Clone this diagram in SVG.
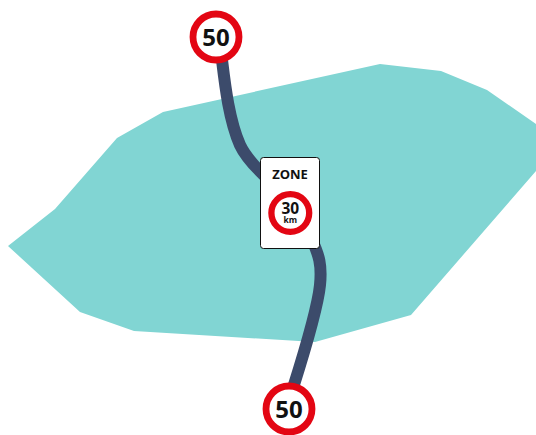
<svg xmlns="http://www.w3.org/2000/svg" width="536" height="435" viewBox="0 0 536 435">
<style>
.sign{fill:#fff;stroke:#e30613}
.big{font-family:"Open Sans","Noto Sans",sans-serif;font-weight:700;fill:#111;text-anchor:middle}
</style>
<rect width="536" height="435" fill="#fff"/>
<polygon id="zone-area" fill="#81d5d3" points="8,246 55,209 117,138 163,112 380,64 441,71 487,90 536,124 536,171 411,315 315,342 134,331 80,312"/>
<g id="connectors"><path d="M222,60C225,85 229,120 240,145C246,158 258,170 270,181M312,240C319,255 322,265 320,285C318,305 305,350 293,388" fill="none" stroke="#3c4b6b" stroke-width="12"/></g>
<g id="sign-top"><circle class="sign" cx="216" cy="37" r="23" stroke-width="6.800"/><text class="big" x="216" y="45.500" font-size="24">50</text></g>
<g id="zone-sign"><rect x="260.500" y="157.500" width="59" height="91" rx="3" fill="#fff" stroke="#111"/><text class="big" x="290" y="179" font-size="13">ZONE</text><circle class="sign" cx="290.300" cy="213" r="18.900" stroke-width="6.300"/><text class="big" x="290.300" y="214" font-size="15.500">30</text><text class="big" x="290.300" y="223" font-size="8.500">km</text></g>
<g id="sign-bottom"><circle class="sign" cx="289" cy="409" r="23" stroke-width="6.800"/><text class="big" x="289" y="417.500" font-size="24">50</text></g>
</svg>
